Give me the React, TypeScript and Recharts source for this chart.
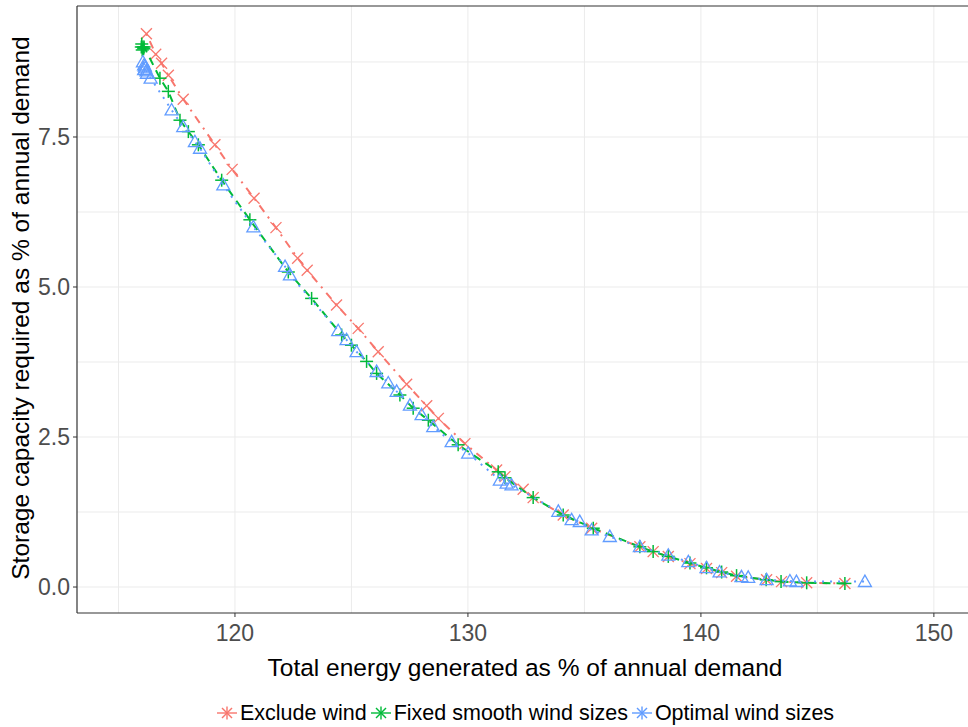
import React from 'react';
import { ScatterChart, Scatter, XAxis, YAxis, ReferenceLine } from 'recharts';

// ---- data ----
const RED_X = [116.2, 116.6, 116.85, 117.14, 117.78, 119.14, 119.88, 120.82, 121.76, 122.69, 123.1, 124.36, 125.29, 126.15, 127.37, 128.23, 128.73, 129.87, 131.23, 131.59, 132.37, 132.8, 134.09, 135.31, 137.38, 137.95, 138.6, 139.53, 140.24, 140.89, 141.53, 142.82, 143.46, 144.54, 146.18];
const RED_Y = [9.22, 8.88, 8.73, 8.53, 8.13, 7.37, 6.96, 6.48, 5.99, 5.48, 5.28, 4.7, 4.31, 3.92, 3.38, 3.02, 2.81, 2.39, 1.95, 1.84, 1.63, 1.49, 1.2, 0.98, 0.67, 0.59, 0.51, 0.39, 0.31, 0.24, 0.18, 0.12, 0.09, 0.07, 0.06];

const GREEN_X = [115.98, 116.0, 116.02, 116.05, 116.08, 116.1, 116.78, 117.14, 117.64, 118.0, 118.43, 119.43, 120.64, 122.29, 123.29, 124.58, 125.0, 125.65, 126.08, 127.08, 127.65, 128.3, 129.58, 131.3, 131.59, 132.8, 134.09, 135.38, 137.38, 137.95, 138.6, 139.53, 140.24, 140.89, 141.53, 142.8, 143.44, 144.54, 146.18];
const GREEN_Y = [9.0, 9.05, 8.95, 9.0, 8.97, 9.0, 8.48, 8.26, 7.78, 7.59, 7.37, 6.78, 6.12, 5.25, 4.81, 4.2, 4.03, 3.76, 3.56, 3.2, 2.98, 2.78, 2.37, 1.92, 1.82, 1.49, 1.2, 0.98, 0.67, 0.59, 0.51, 0.4, 0.32, 0.25, 0.19, 0.12, 0.09, 0.07, 0.06];

const BLUE_X = [116.05, 116.1, 116.1, 116.13, 116.15, 116.2, 116.22, 116.38, 117.28, 117.78, 118.28, 118.5, 119.5, 120.79, 122.15, 122.36, 124.43, 124.79, 125.22, 126.08, 126.58, 126.94, 127.51, 128.01, 128.51, 129.3, 130.01, 131.37, 131.66, 131.87, 133.88, 134.45, 134.8, 135.31, 136.09, 137.38, 138.6, 139.46, 140.24, 140.8, 141.74, 142.03, 142.82, 143.82, 144.1, 147.04];
const BLUE_Y = [8.75, 8.7, 8.62, 8.68, 8.65, 8.6, 8.56, 8.48, 7.95, 7.67, 7.42, 7.31, 6.7, 6.0, 5.34, 5.2, 4.27, 4.12, 3.92, 3.59, 3.4, 3.26, 3.03, 2.87, 2.67, 2.42, 2.23, 1.78, 1.73, 1.7, 1.26, 1.12, 1.09, 0.95, 0.84, 0.67, 0.53, 0.42, 0.32, 0.25, 0.17, 0.16, 0.12, 0.1, 0.09, 0.09];

const SERIES_NAMES = ['Exclude wind', 'Fixed smooth wind sizes', 'Optimal wind sizes'];
const X_TICKS = [120, 130, 140, 150];
const Y_TICKS = [0, 2.5, 5, 7.5];
const X_GRID = [115, 120, 125, 130, 135, 140, 145, 150, 155];
const Y_GRID = [0, 1.25, 2.5, 3.75, 5, 6.25, 7.5, 8.75];
const X_MIN = 113.22;
const X_MAX = 157.13;
const Y_MIN = -0.433;
const Y_MAX = 9.683;
const X_TITLE = 'Total energy generated as % of annual demand';
const Y_TITLE = 'Storage capacity required as % of annual demand';

const RED = '#F8766D';
const GREEN = '#00BA38';
const BLUE = '#619CFF';
const FONT = '"Liberation Sans", Arial, sans-serif';

const zip = (xs: number[], ys: number[]) => xs.map((x, i) => ({ x, y: ys[i] }));
const redData = zip(RED_X, RED_Y);
const greenData = zip(GREEN_X, GREEN_Y);
const blueData = zip(BLUE_X, BLUE_Y);

const CrossShape = (p: any) => {
  const { cx, cy } = p;
  const s = 5.5;
  return (
    <g stroke={RED} strokeWidth={1.3} fill="none">
      <line x1={cx - s} y1={cy - s} x2={cx + s} y2={cy + s} />
      <line x1={cx - s} y1={cy + s} x2={cx + s} y2={cy - s} />
    </g>
  );
};

const PlusShape = (p: any) => {
  const { cx, cy } = p;
  const s = 6.5;
  return (
    <g stroke={GREEN} strokeWidth={1.5} fill="none">
      <line x1={cx - s} y1={cy} x2={cx + s} y2={cy} />
      <line x1={cx} y1={cy - s} x2={cx} y2={cy + s} />
    </g>
  );
};

const TriShape = (p: any) => {
  const { cx, cy } = p;
  const s = 6.5;
  return (
    <polygon
      points={`${cx},${cy - s} ${cx - s},${cy + s * 0.75} ${cx + s},${cy + s * 0.75}`}
      fill="none"
      stroke={BLUE}
      strokeWidth={1.3}
    />
  );
};

const XTitle = (props: any) => {
  const vb = props.viewBox || { x: 77, y: 613 };
  return (
    <text x={vb.x + 448} y={vb.y + 54} dy="0.35em" textAnchor="middle" fill="#000" fontSize={24.5} fontFamily={FONT}>
      {X_TITLE}
    </text>
  );
};

const YTitle = (props: any) => {
  const vb = props.viewBox || { x: 0, y: 6, height: 607 };
  const cx = vb.x + 20;
  const cy = vb.y + 302;
  return (
    <text x={cx} y={cy} dy="0.35em" textAnchor="middle" fill="#000" fontSize={24.5} fontFamily={FONT} transform={`rotate(-90, ${cx}, ${cy})`}>
      {Y_TITLE}
    </text>
  );
};

const LegendIcon = ({ color }: { color: string }) => (
  <svg width={22} height={20} style={{ display: 'block' }}>
    <g stroke={color} strokeWidth={1.4} fill="none">
      <line x1={1} y1={10} x2={21} y2={10} />
      <line x1={6} y1={5} x2={16} y2={15} />
      <line x1={6} y1={15} x2={16} y2={5} />
      <line x1={11} y1={3.5} x2={11} y2={16.5} />
    </g>
  </svg>
);

const COLORS = [RED, GREEN, BLUE];

export default function App() {
  return (
    <div style={{ position: 'absolute', left: 0, top: 0, width: 968, height: 727, overflow: 'hidden', background: '#fff' }}>
      <ScatterChart width={1100} height={727} margin={{ top: 6, right: 0, bottom: 0, left: 0 }}>
        {X_GRID.map((v) => (
          <ReferenceLine key={'gx' + v} x={v} stroke="#EBEBEB" strokeWidth={1} ifOverflow="hidden" />
        ))}
        {Y_GRID.map((v) => (
          <ReferenceLine key={'gy' + v} y={v} stroke="#EBEBEB" strokeWidth={1} ifOverflow="hidden" />
        ))}
        <ReferenceLine y={Y_MAX} stroke="#333333" strokeWidth={1.2} />
        <XAxis
          dataKey="x"
          type="number"
          domain={[X_MIN, X_MAX]}
          allowDataOverflow
          ticks={X_TICKS}
          height={114}
          tickSize={4}
          tickMargin={8}
          axisLine={{ stroke: '#333333', strokeWidth: 1.2 }}
          tickLine={{ stroke: '#333333' }}
          tick={{ fill: '#4D4D4D', fontSize: 23, fontFamily: FONT }}
          label={<XTitle />}
        />
        <YAxis
          dataKey="y"
          type="number"
          domain={[Y_MIN, Y_MAX]}
          allowDataOverflow
          ticks={Y_TICKS}
          width={77}
          tickSize={4}
          tickMargin={3}
          tickFormatter={(v: number) => v.toFixed(1)}
          axisLine={{ stroke: '#333333', strokeWidth: 1.2 }}
          tickLine={{ stroke: '#333333' }}
          tick={{ fill: '#4D4D4D', fontSize: 23, fontFamily: FONT }}
          label={<YTitle />}
        />
        <Scatter
          name={SERIES_NAMES[0]}
          data={redData}
          fill={RED}
          isAnimationActive={false}
          line={{ stroke: RED, strokeWidth: 2, strokeDasharray: '2 6 8 6' }}
          shape={CrossShape}
        />
        <Scatter
          name={SERIES_NAMES[1]}
          data={greenData}
          fill={GREEN}
          isAnimationActive={false}
          line={{ stroke: GREEN, strokeWidth: 2, strokeDasharray: '8 6' }}
          shape={PlusShape}
        />
        <Scatter
          name={SERIES_NAMES[2]}
          data={blueData}
          fill={BLUE}
          isAnimationActive={false}
          line={{ stroke: BLUE, strokeWidth: 2, strokeDasharray: '2 6' }}
          shape={TriShape}
        />
      </ScatterChart>
      <div
        style={{
          position: 'absolute',
          left: 216,
          top: 701,
          display: 'flex',
          alignItems: 'center',
          fontFamily: FONT,
          fontSize: 21.5,
          color: '#000',
          whiteSpace: 'nowrap',
          lineHeight: '24px',
        }}
      >
        {SERIES_NAMES.map((n, i) => (
          <div key={n} style={{ display: 'flex', alignItems: 'center', marginRight: 3 }}>
            <LegendIcon color={COLORS[i]} />
            <span style={{ marginLeft: 2 }}>{n}</span>
          </div>
        ))}
      </div>
    </div>
  );
}
